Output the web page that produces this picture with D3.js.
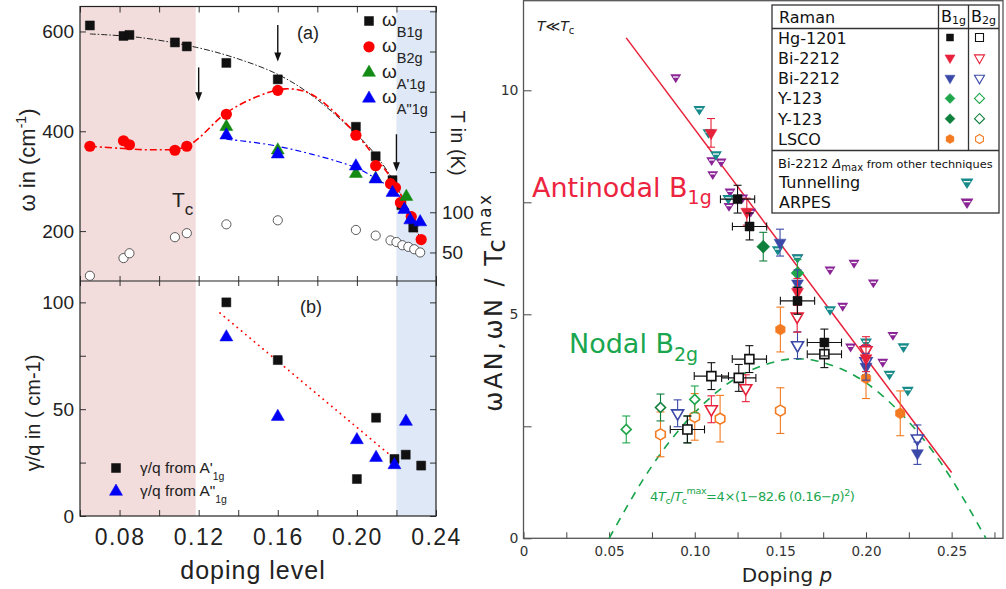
<!DOCTYPE html>
<html><head><meta charset="utf-8">
<script src="https://cdn.jsdelivr.net/npm/d3@7"></script>
<style>body{margin:0;background:#fff} svg{display:block}</style>
</head><body><svg id="c" width="1006" height="589"></svg>
<script>
// ---------------- LEFT PANEL DATA ----------------
const pinkRegion = [0.06, 0.1185];
const blueRegion = [0.22, 0.24];
const xTicksLeft = [0.06,0.08,0.10,0.12,0.14,0.16,0.18,0.20,0.22,0.24];
const xLabelsLeft = [0.08,0.12,0.16,0.20,0.24];
const omegaTicks = [200,400,600];
const tTicks = [50,100,150,200,250,300,350];
const tLabels = [50,100];
const gammaTicks = [0,25,50,75,100];
const gammaLabels = [0,50,100];

const dopB1g = [0.065,0.082,0.085,0.108,0.114,0.134,0.160,0.1995,0.2095,0.218,0.2225,0.2285];
const omegaB1g = [612,591,593,578,570,537,504,409,350,302,252,207];
const dopB2g = [0.065,0.082,0.085,0.108,0.114,0.134,0.160,0.1995,0.2095,0.217,0.2195,0.222,0.2275,0.2325];
const omegaB2g = [370,381,373,362,370,434,482,392,331,295,287,257,229,183];
const dopA1 = [0.134,0.160,0.1995,0.2095,0.225];
const omegaA1 = [409,362,315,305,269];
const dopA2 = [0.134,0.160,0.1995,0.2095,0.218,0.224,0.227,0.232];
const omegaA2 = [392,354,330,304,277,243,222,218];
const dopTc = [0.065,0.082,0.085,0.108,0.114,0.134,0.160,0.1995,0.2095,0.217,0.220,0.223,0.226,0.229,0.232];
const tcK = [21,43,49,69,74,85,90,78,71,65,63,59,57,54,50];

const fitB1g = [[0.065,595],[0.09,588],[0.119,568],[0.14,545],[0.16,514],[0.1765,474],[0.199,397],[0.21,350],[0.22,290],[0.232,185]];
const fitB2g = [[0.065,370],[0.08,366],[0.097,363],[0.114,370],[0.134,437],[0.15,470],[0.164,485],[0.177,474],[0.199,397],[0.21,344],[0.22,290],[0.232,183]];
const fitA2 = [[0.134,384],[0.16,370],[0.1995,327],[0.21,304],[0.22,277],[0.232,205]];
const arrows = [[0.12,528,460],[0.16,613,540],[0.22,394,320]];

const dopGA1 = [0.134,0.160,0.200,0.2097,0.219,0.2247,0.2325];
const gammaA1 = [100,73,17.3,46,26.7,28.7,23.6];
const dopGA2 = [0.134,0.160,0.200,0.2097,0.219,0.2248];
const gammaA2 = [83.7,46.5,35.6,27.3,23.9,44.2];
const gammaTrend = [[0.1308,95],[0.2168,28.5]];

// ---------------- RIGHT PANEL DATA ----------------
// [p, value, xErr, yErr]
const hgB1g = [[0.125,7.57,0.01,0.31],[0.132,6.96,0.01,0.3],[0.16,5.3,0.01,0.3],[0.1757,4.37,0.01,0.3]];
const hgB2g = [[0.0957,2.43,0.01,0.3],[0.1097,3.62,0.01,0.3],[0.1257,3.58,0.01,0.3],[0.1319,4.0,0.01,0.3],[0.1757,4.11,0.01,0.3]];
const biRedB1g = [[0.1095,9.05,0,0.32],[0.1304,7.29,0,0.3],[0.16,5.5,0,0.3],[0.20,4.02,0,0.3]];
const biRedB2g = [[0.1097,2.88,0,0.3],[0.1298,3.35,0,0.3],[0.1598,4.95,0,0.35],[0.20,4.2,0,0.3]];
const biBlueB1g = [[0.1498,6.6,0,0.3],[0.16,5.69,0,0.3],[0.20,3.83,0,0.3],[0.23,1.9,0,0.25]];
const biBlueB2g = [[0.09,2.79,0,0.3],[0.16,4.31,0,0.3],[0.20,3.95,0,0.3],[0.23,2.23,0,0.3]];
const y123aB1g = [[0.16,5.92,0,0.3]];
const y123aB2g = [[0.06,2.43,0,0.3],[0.10,3.1,0,0.3]];
const y123bB1g = [[0.14,6.51,0,0.32]];
const y123bB2g = [[0.08,2.92,0,0.3],[0.0957,2.43,0,0.3]];
const lscoB1g = [[0.15,4.66,0,0.5],[0.20,3.57,0,0.45],[0.22,2.79,0,0.5]];
const lscoB2g = [[0.08,2.32,0,0.5],[0.10,2.71,0,0.52],[0.1148,2.67,0,0.52],[0.15,2.85,0,0.51]];
const tunnelling = [[0.1027,9.58],[0.108,9.06],[0.1124,8.57],[0.1196,7.59],[0.1485,6.45],[0.16,6.27],[0.179,5.11],[0.2,4.39],[0.2137,3.67],[0.2219,4.28],[0.2244,3.31]];
const arpes = [[0.0889,10.29],[0.1099,8.44],[0.1154,8.41],[0.1105,8.13],[0.1206,7.74],[0.12,7.42],[0.128,7.61],[0.1327,7.29],[0.16,6.27],[0.16,5.55],[0.179,6.0],[0.193,6.15],[0.2043,5.71],[0.1864,5.19],[0.191,4.28],[0.2157,4.54],[0.2098,3.94],[0.2,4.25]];
const antinodalLine = [[0.06,11.17],[0.25,1.47]];
const nodalCurve = [[0.05,0],[0.07,1.32],[0.09,2.38],[0.11,3.17],[0.13,3.70],[0.15,3.97],[0.16,4.0],[0.17,3.97],[0.19,3.70],[0.21,3.17],[0.23,2.38],[0.25,1.32],[0.27,0]];
const xTicksRight = [0,0.025,0.05,0.075,0.10,0.125,0.15,0.175,0.20,0.225,0.25,0.275];
const xLabelsRight = [0,0.05,0.10,0.15,0.20,0.25];
const yTicksRight = [0,2.5,5,7.5,10];
const yLabelsRight = [0,5,10];

// ---------------- HELPERS ----------------
function symPath(type, s){
  if(type==='square') return `M${-s/2},${-s/2}h${s}v${s}h${-s}Z`;
  if(type==='triDown'){const h=s*0.866;return `M${-s/2},${-h/3}L${s/2},${-h/3}L0,${2*h/3}Z`;}
  if(type==='triUp'){const h=s*0.866;return `M${-s/2},${h/3}L${s/2},${h/3}L0,${-2*h/3}Z`;}
  if(type==='diamond') return `M0,${-s/2}L${s/2},0L0,${s/2}L${-s/2},0Z`;
  if(type==='hex'){const p=[];for(let i=0;i<6;i++){const a=Math.PI/3*i+Math.PI/6;p.push([(s/2*Math.cos(a)).toFixed(2),(s/2*Math.sin(a)).toFixed(2)]);}return 'M'+p.join('L')+'Z';}
}
function mark(g,type,x,y,s,color,filled,sw){
  g.append('path').attr('d',symPath(type,s)).attr('transform',`translate(${x},${y})`)
   .attr('fill',filled?color:'#fff').attr('stroke',color).attr('stroke-width',filled?0.5:(sw||1.5));
}
function bandMark(g,x,y,w,color){
  const h=w*0.8;
  g.append('path').attr('d',`M${-w/2},${-h/3}L${w/2},${-h/3}L0,${2*h/3}Z`).attr('transform',`translate(${x},${y})`).attr('fill',color);
  const yy=-h/3+h*0.3, half=(w/2)*(1-0.3)-1.2;
  g.append('line').attr('x1',x-half).attr('x2',x+half).attr('y1',y+yy).attr('y2',y+yy).attr('stroke','#fff').attr('stroke-width',1.3);
}

const svg = d3.select('#c');

// ================= LEFT PANEL =================
const L = svg.append('g').attr('font-family',"'Liberation Sans', Arial, sans-serif").attr('fill','#222');
const xL = d3.scaleLinear([0.06,0.24],[80,436]);
const yA = d3.scaleLinear([100,650],[281,6.5]);
const yT = d3.scaleLinear([14.5,356],[281,6.5]);
const yB = d3.scaleLinear([0,110],[516,281]);

L.append('rect').attr('x',xL(pinkRegion[0])).attr('y',6.5).attr('width',xL(pinkRegion[1])-xL(pinkRegion[0])).attr('height',516-6.5).attr('fill','#f2dcdc');
L.append('rect').attr('x',xL(blueRegion[0])).attr('y',10).attr('width',xL(blueRegion[1])-xL(blueRegion[0])).attr('height',516-10).attr('fill','#dee8f6');

function clean(g){g.select('.domain').remove();g.selectAll('line').attr('stroke','#333');}
L.append('g').attr('transform','translate(0,516)')
 .call(d3.axisBottom(xL).tickValues(xTicksLeft).tickSize(-6).tickPadding(13)
   .tickFormat(d=>xLabelsLeft.some(v=>Math.abs(v-d)<1e-6)?d3.format('.2f')(d):''))
 .call(clean).call(g=>g.selectAll('text').attr('font-size',23).attr('letter-spacing',1.5).attr('fill','#222').attr('font-family',"'Liberation Sans', Arial, sans-serif"));
L.append('g').attr('transform','translate(0,281)').call(d3.axisBottom(xL).tickValues(xTicksLeft).tickSize(-5).tickFormat('')).call(clean);
L.append('g').attr('transform','translate(0,281)').call(d3.axisBottom(xL).tickValues(xTicksLeft).tickSize(5).tickFormat('')).call(clean);
L.append('g').attr('transform','translate(0,6.5)').call(d3.axisTop(xL).tickValues(xTicksLeft).tickSize(-6).tickFormat('')).call(clean);
L.append('g').attr('transform','translate(80,0)')
 .call(d3.axisLeft(yA).tickValues(omegaTicks).tickSize(-6).tickPadding(6))
 .call(clean).call(g=>g.selectAll('text').attr('font-size',19).attr('fill','#222').attr('font-family',"'Liberation Sans', Arial, sans-serif"));
L.append('g').attr('transform','translate(80,0)')
 .call(d3.axisLeft(yB).tickValues(gammaTicks).tickSize(-6).tickPadding(6)
   .tickFormat(d=>gammaLabels.includes(d)?d:''))
 .call(clean).call(g=>g.selectAll('text').attr('font-size',19).attr('fill','#222').attr('font-family',"'Liberation Sans', Arial, sans-serif"));
L.append('g').attr('transform','translate(436,0)')
 .call(d3.axisRight(yT).tickValues(tTicks).tickSize(-6).tickPadding(6)
   .tickFormat(d=>tLabels.includes(d)?d:''))
 .call(clean).call(g=>g.selectAll('text').attr('font-size',19).attr('fill','#222').attr('font-family',"'Liberation Sans', Arial, sans-serif"));
L.append('g').attr('transform','translate(436,0)')
 .call(d3.axisRight(yB).tickValues(gammaTicks).tickSize(-6).tickFormat('')).call(clean);
L.append('rect').attr('x',80).attr('y',6.5).attr('width',356).attr('height',509.5).attr('fill','none').attr('stroke','#222').attr('stroke-width',1.2);
L.append('line').attr('x1',80).attr('x2',436).attr('y1',281).attr('y2',281).attr('stroke','#222').attr('stroke-width',1.2);

L.selectAll('.tc').data(dopTc).join('circle').attr('cx',d=>xL(d)).attr('cy',(d,i)=>yT(tcK[i])).attr('r',4.6)
 .attr('fill','#fff').attr('stroke','#333').attr('stroke-width',0.8);

const lineA = d3.line().x(d=>xL(d[0])).y(d=>yA(d[1])).curve(d3.curveCatmullRom);
L.append('path').attr('d',lineA(fitB1g)).attr('fill','none').attr('stroke','#222').attr('stroke-width',1).attr('stroke-dasharray','6,2,1.5,2');
L.append('path').attr('d',lineA(fitB2g)).attr('fill','none').attr('stroke','#f00').attr('stroke-width',1.6).attr('stroke-dasharray','7,3,2,3');
L.append('path').attr('d',lineA(fitA2)).attr('fill','none').attr('stroke','#00f').attr('stroke-width',1.2).attr('stroke-dasharray','6,3,2,3');

arrows.forEach(a=>{
  const x=xL(a[0]), y1=yA(a[1]), y2=yA(a[2]);
  L.append('line').attr('x1',x).attr('x2',x).attr('y1',y1).attr('y2',y2-6).attr('stroke','#111').attr('stroke-width',1.4);
  L.append('path').attr('d',`M${x-3.5},${y2-9}L${x+3.5},${y2-9}L${x},${y2}Z`).attr('fill','#111');
});

dopB1g.forEach((d,i)=>mark(L,'square',xL(d),yA(omegaB1g[i]),9,'#111',true));
dopB2g.forEach((d,i)=>L.append('circle').attr('cx',xL(d)).attr('cy',yA(omegaB2g[i])).attr('r',5.6).attr('fill','#f00'));
dopA1.forEach((d,i)=>mark(L,'triUp',xL(d),yA(omegaA1[i]),13,'#138a13',true));
dopA2.forEach((d,i)=>mark(L,'triUp',xL(d),yA(omegaA2[i]),13,'#0000f5',true));

L.append('path').attr('d',d3.line().x(d=>xL(d[0])).y(d=>yB(d[1]))(gammaTrend)).attr('stroke','#f00').attr('stroke-width',1.8)
 .attr('stroke-dasharray','0.1,5.5').attr('stroke-linecap','round').attr('fill','none');
dopGA1.forEach((d,i)=>mark(L,'square',xL(d),yB(gammaA1[i]),9,'#111',true));
dopGA2.forEach((d,i)=>mark(L,'triUp',xL(d),yB(gammaA2[i]),13,'#0000f5',true));

L.append('text').attr('x',308).attr('y',39).attr('font-size',18).attr('text-anchor','middle').text('(a)');
L.append('text').attr('x',311).attr('y',313).attr('font-size',18).attr('text-anchor','middle').text('(b)');
const tcT = L.append('text').attr('x',172).attr('y',207).attr('font-size',21);
tcT.append('tspan').text('T');
tcT.append('tspan').attr('font-size',17).attr('dy',8).text('c');

const legA = [['square','#111','B1g'],['circle','#f00','B2g'],['triUp','#138a13',"A'1g"],['triUp','#0000f5','A"1g']];
legA.forEach((r,i)=>{
  const cy = 21 + i*25.8;
  if(r[0]==='circle') L.append('circle').attr('cx',369).attr('cy',cy).attr('r',5.6).attr('fill',r[1]);
  else mark(L,r[0],369,cy,r[0]==='square'?9:13,r[1],true);
  const t=L.append('text').attr('x',382).attr('y',cy+5).attr('font-size',19);
  t.append('tspan').text('ω');
  t.append('tspan').attr('font-size',14.5).attr('dy',11).text(r[2]);
});
mark(L,'square',116,468,9,'#111',true);
mark(L,'triUp',116,491.5,13,'#0000f5',true);
[["A'",473],['A"',496]].forEach((r,i)=>{
  const t=L.append('text').attr('x',140).attr('y',r[1]).attr('font-size',15.5);
  t.append('tspan').text('γ/q  from '+r[0]);
  t.append('tspan').attr('font-size',10.5).attr('dy',7).text('1g');
});

const yl = L.append('text').attr('transform','translate(35,160) rotate(-90)').attr('text-anchor','middle').attr('font-size',22);
yl.append('tspan').text('ω in (cm');
yl.append('tspan').attr('font-size',14).attr('dy',-9).text('-1');
yl.append('tspan').attr('dy',9).text(')');
L.append('text').attr('transform','translate(40,413) rotate(-90)').attr('text-anchor','middle').attr('font-size',20).text('γ/q in ( cm-1)');
L.append('text').attr('transform','translate(451,143) rotate(90)').attr('text-anchor','middle').attr('font-size',20).text('T in (K)');
L.append('text').attr('x',253).attr('y',579).attr('text-anchor','middle').attr('font-size',25).attr('letter-spacing',1).text('doping level');

// ================= RIGHT PANEL =================
const R = svg.append('g').attr('font-family',"'DejaVu Sans', sans-serif");
const xR = d3.scaleLinear([0,0.28],[523.5,1003]);
const yR = d3.scaleLinear([0,12],[538.3,0.7]);

R.append('g').attr('transform','translate(0,538.3)')
 .call(d3.axisBottom(xR).tickValues(xTicksRight).tickSize(-6).tickPadding(8)
   .tickFormat(d=>xLabelsRight.some(v=>Math.abs(v-d)<1e-6)?(d===0?'0':d3.format('.2f')(d)):''))
 .call(g=>{g.select('.domain').remove();g.selectAll('line').attr('stroke','#444');g.selectAll('text').attr('font-size',13.5).attr('fill','#333').attr('font-family',"'DejaVu Sans', sans-serif");});
R.append('g').attr('transform','translate(523.5,0)')
 .call(d3.axisLeft(yR).tickValues(yTicksRight).tickSize(-8).tickPadding(5)
   .tickFormat(d=>yLabelsRight.includes(d)?d:''))
 .call(g=>{g.select('.domain').remove();g.selectAll('line').attr('stroke','#444');g.selectAll('text').attr('font-size',14).attr('fill','#333').attr('font-family',"'DejaVu Sans', sans-serif");});
R.append('rect').attr('x',523.5).attr('y',0.7).attr('width',1003-523.5).attr('height',538.3-0.7).attr('fill','none').attr('stroke','#555').attr('stroke-width',1.3);

R.append('path').attr('d',d3.line().x(d=>xR(d[0])).y(d=>yR(d[1])).curve(d3.curveNatural)(nodalCurve))
 .attr('fill','none').attr('stroke','#17a34a').attr('stroke-width',1.6).attr('stroke-dasharray','8,7');
R.append('path').attr('d',d3.line().x(d=>xR(d[0])).y(d=>yR(d[1]))(antinodalLine))
 .attr('fill','none').attr('stroke','#e8213a').attr('stroke-width',1.5);

arpes.forEach(d=>bandMark(R,xR(d[0]),yR(d[1]),11,'#8b2596'));
tunnelling.forEach(d=>bandMark(R,xR(d[0]),yR(d[1]),12,'#178a8a'));

function errBars(g,data,color){
  data.forEach(d=>{
    const [p,v,dx,dy]=d; const cx=xR(p), cy=yR(v);
    if(dy){const a=yR(v-dy), b=yR(v+dy);
      g.append('line').attr('x1',cx).attr('x2',cx).attr('y1',a).attr('y2',b).attr('stroke',color).attr('stroke-width',1.1);
      [a,b].forEach(yy=>g.append('line').attr('x1',cx-4).attr('x2',cx+4).attr('y1',yy).attr('y2',yy).attr('stroke',color).attr('stroke-width',1.1));}
    if(dx){const a=xR(p-dx), b=xR(p+dx);
      g.append('line').attr('x1',a).attr('x2',b).attr('y1',cy).attr('y2',cy).attr('stroke',color).attr('stroke-width',1.1);
      [a,b].forEach(xx=>g.append('line').attr('x1',xx).attr('x2',xx).attr('y1',cy-4).attr('y2',cy+4).attr('stroke',color).attr('stroke-width',1.1));}
  });
}
const raman = [
  {name:'Hg-1201', color:'#111', shape:'square', s1:9, s2:9, b1:hgB1g, b2:hgB2g},
  {name:'Bi-2212', color:'#e8213a', shape:'triDown', s1:12, s2:12, b1:biRedB1g, b2:biRedB2g},
  {name:'Bi-2212', color:'#3a48a8', shape:'triDown', s1:12, s2:12, b1:biBlueB1g, b2:biBlueB2g},
  {name:'Y-123', color:'#1fa64a', shape:'diamond', s1:13, s2:10, b1:y123aB1g, b2:y123aB2g},
  {name:'Y-123', color:'#0f7f3c', shape:'diamond', s1:13, s2:10, b1:y123bB1g, b2:y123bB2g},
  {name:'LSCO', color:'#f37a21', shape:'hex', s1:11, s2:11, b1:lscoB1g, b2:lscoB2g}
];
raman.slice().reverse().forEach(r=>{
  errBars(R,r.b2,r.color);
  r.b2.forEach(d=>mark(R,r.shape,xR(d[0]),yR(d[1]),r.s2,r.color,false,1.6));
});
raman.slice().reverse().forEach(r=>{
  errBars(R,r.b1,r.color);
  r.b1.forEach(d=>mark(R,r.shape,xR(d[0]),yR(d[1]),r.s1,r.color,true));
});

const an = R.append('text').attr('x',532).attr('y',197).attr('font-size',27).attr('fill','#ec2440');
an.append('tspan').text('Antinodal B');
an.append('tspan').attr('font-size',19).attr('dy',7).text('1g');
const nd = R.append('text').attr('x',569).attr('y',353).attr('font-size',27).attr('fill','#1aa64e');
nd.append('tspan').text('Nodal B');
nd.append('tspan').attr('font-size',19).attr('dy',8).text('2g');
const tt = R.append('text').attr('x',537).attr('y',31).attr('font-size',14).attr('fill','#222');
tt.append('tspan').attr('font-style','italic').text('T');
tt.append('tspan').text('≪');
tt.append('tspan').attr('font-style','italic').text('T');
tt.append('tspan').attr('font-size',10).attr('dy',3).text('c');

const fm = R.append('text').attr('x',650).attr('y',501).attr('font-size',13).attr('fill','#1aa64e').attr('letter-spacing',-0.4);
fm.append('tspan').text('4');
fm.append('tspan').attr('font-style','italic').text('T');
fm.append('tspan').attr('font-size',9.5).attr('dy',3).text('c');
fm.append('tspan').attr('dy',-3).text('/');
fm.append('tspan').attr('font-style','italic').text('T');
fm.append('tspan').attr('font-size',9.5).attr('dy',3).text('c');
fm.append('tspan').attr('font-size',9.5).attr('dy',-10).text('max');
fm.append('tspan').attr('dy',7).text('=4×(1−82.6 (0.16−');
fm.append('tspan').attr('font-style','italic').text('p');
fm.append('tspan').text(')');
fm.append('tspan').attr('font-size',9.5).attr('dy',-5).text('2');
fm.append('tspan').attr('dy',5).text(')');

const xt = R.append('text').attr('x',787).attr('y',582).attr('text-anchor','middle').attr('font-size',20).attr('fill','#222');
xt.append('tspan').text('Doping ');
xt.append('tspan').attr('font-style','italic').text('p');
const yt = R.append('text').attr('transform','translate(502,302) rotate(-90)').attr('text-anchor','middle').attr('font-size',24).attr('letter-spacing',2.5).attr('fill','#222');
yt.append('tspan').text('ωAN,ωN / T');
yt.append('tspan').attr('dy',3).text('c');
yt.append('tspan').attr('font-size',17).attr('dy',-14).text('max');

const G = R.append('g');
G.append('rect').attr('x',772).attr('y',5).attr('width',227).attr('height',208).attr('fill','#fff').attr('stroke','#333').attr('stroke-width',1.3);
G.append('line').attr('x1',772).attr('x2',999).attr('y1',28.5).attr('y2',28.5).attr('stroke','#333').attr('stroke-width',1.3);
G.append('line').attr('x1',772).attr('x2',999).attr('y1',150.5).attr('y2',150.5).attr('stroke','#333').attr('stroke-width',1.3);
[938.5,968.5].forEach(x=>G.append('line').attr('x1',x).attr('x2',x).attr('y1',5).attr('y2',150.5).attr('stroke','#333').attr('stroke-width',1.3));
G.append('text').attr('x',779).attr('y',23).attr('font-size',16).attr('fill','#111').text('Raman');
[['1g',941],['2g',971]].forEach(h=>{
  const t=G.append('text').attr('x',h[1]).attr('y',22).attr('font-size',16).attr('fill','#111');
  t.append('tspan').text('B'); t.append('tspan').attr('font-size',11).attr('dy',2).text(h[0]);
});
raman.forEach((r,i)=>{
  const cy = 37.5 + i*20.3;
  G.append('text').attr('x',778).attr('y',cy+6).attr('font-size',16).attr('fill','#111').text(r.name);
  mark(G,r.shape,950,cy,r.shape==='square'?7:(r.shape==='hex'?9:10),r.color,true);
  mark(G,r.shape,979.5,cy,r.shape==='square'?8:(r.shape==='hex'?9:10),r.color,false,1.1);
});
const bt = G.append('text').attr('x',778).attr('y',168).attr('font-size',13).attr('fill','#111');
bt.append('tspan').text('Bi-2212 ');
bt.append('tspan').attr('font-style','italic').text('Δ');
bt.append('tspan').attr('font-size',10).attr('dy',3).text('max');
bt.append('tspan').attr('font-size',11.3).attr('dy',-3).text(' from other techniques');
G.append('text').attr('x',779).attr('y',188).attr('font-size',16).attr('fill','#111').text('Tunnelling');
G.append('text').attr('x',779).attr('y',208).attr('font-size',16).attr('fill','#111').text('ARPES');
bandMark(G,967,182,13,'#178a8a');
bandMark(G,967,202,13,'#8b2596');
</script></body></html>
